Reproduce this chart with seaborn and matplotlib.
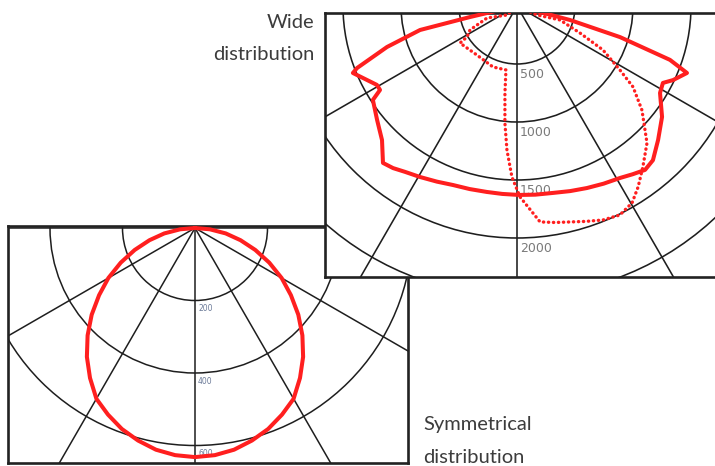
import numpy as np
import pandas as pd
import matplotlib
matplotlib.use("Agg")
import matplotlib.pyplot as plt
import seaborn as sns
from matplotlib.patches import Circle

sns.set_theme(style="white")
plt.rcParams["font.family"] = ["Lato", "DejaVu Sans"]

# ---------------- data ----------------
# Wide distribution (upper-right inset), angle in degrees from nadir, intensity in cd
wide_solid_angle = [-90, -76.8, -76.1, -72.5, -68.8, -67.8, -60.6, -58.5, -56.9, -50.8,
                    -45.2, -40.5, -37.4, -34.0, -29.6, -24.5, -19.7, -14.5, -9.2, -4.5, 0.6,
                    5.5, 10.9, 16.0, 21.0, 26.0, 30.9, 34.5, 38.0, 41.4, 46.5, 52.6, 58.7,
                    62.2, 64.6, 68.5, 70.6, 73.2, 75.2, 90]
wide_solid_cd = [0, 416, 861, 1175, 1479, 1528, 1386, 1385, 1483, 1556,
                 1640, 1779, 1759, 1725, 1695, 1664, 1639, 1630, 1624, 1625, 1629,
                 1634, 1641, 1660, 1681, 1704, 1728, 1760, 1793, 1772, 1677, 1574, 1443,
                 1422, 1489, 1575, 1398, 928, 472, 0]

wide_dotted_angle = [-90, -48, -68.2, -63, -58.2, -57, -39.2, -21.5, -9.8, -7.9, -5.9,
                     -4.0, -1.7, 0.9, 4.4, 6.1, 10.0, 13.8, 17.8, 21.9, 26.2, 30.3, 33.8,
                     38.0, 43.5, 50.2, 55.1, 58.1, 62.9, 66.8, 72, 65.8, 90]
wide_dotted_cd = [0, 116, 278, 455, 507, 586, 546, 565, 559, 757, 1014,
                  1244, 1475, 1646, 1790, 1872, 1895, 1917, 1950, 1988, 2008, 1966, 1877,
                  1762, 1628, 1402, 1220, 1046, 833, 590, 390, 189, 0]

wide_ring_values = [500, 1000, 1500, 2000, 2500]
wide_ring_labels = ["500", "1000", "1500", "2000"]

# Symmetrical distribution (lower-left inset)
sym_angle = [-90, -85, -80, -75, -70, -65, -60, -55, -50, -45, -40, -35, -30, -25, -20,
             -15, -10, -5, 0, 5, 10, 15, 20, 25, 30, 35, 40, 45, 50, 55, 60, 65, 70,
             75, 80, 85, 90]
sym_cd = [0, 41, 86, 130, 177, 226, 276, 323, 372, 419, 464, 505, 544, 568, 590,
          607, 621, 629, 632, 629, 621, 607, 590, 568, 544, 505, 464, 419, 372, 323, 276,
          226, 177, 130, 86, 41, 0]

sym_ring_values = [200, 400, 600]
sym_ring_labels = ["200", "400", "600"]

grid_angles = [-90, -60, -30, 0, 30, 60, 90]

# ---------------- helpers ----------------
W, H = 715, 466
RED = "#ff1f1f"
GRID = "#1e1e1e"


def to_xy(angles, cd):
    th = np.radians(np.asarray(angles, dtype=float))
    cd = np.asarray(cd, dtype=float)
    return pd.DataFrame({"x": cd * np.sin(th), "y": -cd * np.cos(th)})


def make_axes(fig, left, top, right, bottom, cx, cy, scale, z):
    ax = fig.add_axes([left / W, 1 - bottom / H, (right - left) / W, (bottom - top) / H])
    ax.set_xlim((left - cx) * scale, (right - cx) * scale)
    ax.set_ylim(-(bottom - cy) * scale, -(top - cy) * scale)
    ax.set_xticks([])
    ax.set_yticks([])
    ax.set_facecolor("white")
    ax.set_zorder(z)
    for sp in ax.spines.values():
        sp.set_color("#222222")
        sp.set_linewidth(1.9)
    return ax


def draw_grid(ax, rings, rmax, lw):
    for r in rings:
        ax.add_patch(Circle((0, 0), r, fill=False, ec=GRID, lw=lw, zorder=1))
    for a in grid_angles:
        t = np.radians(a)
        ax.plot([0, rmax * np.sin(t)], [0, -rmax * np.cos(t)], color=GRID, lw=lw, zorder=1)


fig = plt.figure(figsize=(W / 100, H / 100), dpi=100)

# ---------------- lower-left: symmetrical ----------------
s2 = 200 / 72.5
ax_low = make_axes(fig, 8, 226, 408, 463, 195, 228, s2, 1)
draw_grid(ax_low, sym_ring_values, 1500, 1.1)
for v, lab in zip(sym_ring_values, sym_ring_labels):
    ax_low.text(3 * s2, -(v + 8 * s2), lab, ha="left", va="center", fontsize=5.5,
                color="#6b7a98", family="DejaVu Sans", zorder=2)
df_sym = to_xy(sym_angle, sym_cd)
sns.lineplot(data=df_sym, x="x", y="y", sort=False, estimator=None, ax=ax_low,
             color=RED, lw=2.9, zorder=3)
ax_low.set_xlabel("")
ax_low.set_ylabel("")

# ---------------- upper-right: wide ----------------
s1 = 500 / 58
ax_up = make_axes(fig, 325, 13, 718, 277, 517, 6, s1, 2)
ax_up.spines["right"].set_visible(False)
draw_grid(ax_up, wide_ring_values, 5000, 1.15)
for v, lab in zip(wide_ring_values, wide_ring_labels):
    ax_up.text(3 * s1, -(v + 10 * s1), lab, ha="left", va="center", fontsize=9,
               color="#7a7a7a", family="DejaVu Sans", zorder=2)
df_solid = to_xy(wide_solid_angle, wide_solid_cd)
df_dot = to_xy(wide_dotted_angle, wide_dotted_cd)
sns.lineplot(data=df_solid, x="x", y="y", sort=False, estimator=None, ax=ax_up,
             color=RED, lw=2.9, zorder=3)
sns.lineplot(data=df_dot, x="x", y="y", sort=False, estimator=None, ax=ax_up,
             color=RED, lw=2.4, linestyle=(0, (0.1, 1.4)), dash_capstyle="round", zorder=3)
ax_up.set_xlabel("")
ax_up.set_ylabel("")

# ---------------- captions ----------------
cap = dict(fontsize=14.5, color="#3c3c3c", fontweight="normal", va="baseline")
fig.text(314 / W, 1 - 28 / H, "Wide", ha="right", **cap)
fig.text(314 / W, 1 - 60 / H, "distribution", ha="right", **cap)
fig.text(423 / W, 1 - 430 / H, "Symmetrical", ha="left", **cap)
fig.text(423 / W, 1 - 463 / H, "distribution", ha="left", **cap)

fig.savefig("out.png", dpi=100, facecolor="white")
